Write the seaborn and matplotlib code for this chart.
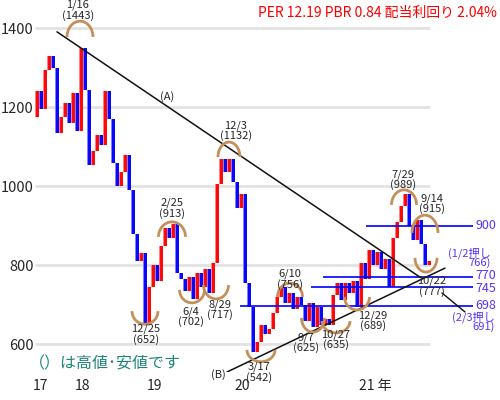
import numpy as np
import pandas as pd
import matplotlib
matplotlib.use("Agg")
import matplotlib.pyplot as plt
from matplotlib.patches import Arc
import seaborn as sns

# ---- data ----
first_open = 1175
closes = [1240, 1195, 1295, 1330, 1300, 1135, 1175, 1210, 1160, 1235,
          1140, 1350, 1245, 1055, 1090, 1130, 1105, 1240, 1170, 1060,
          1000, 1035, 1080, 990, 880, 810, 830, 655, 745, 800,
          760, 850, 895, 870, 905, 780, 765, 735, 770, 715,
          780, 745, 790, 730, 805, 1005, 1070, 1035, 1070, 1010,
          945, 980, 755, 695, 580, 605, 650, 625, 640, 680,
          720, 745, 705, 730, 690, 720, 700, 658, 705, 645,
          695, 650, 665, 650, 725, 755, 712, 755, 730, 760,
          695, 805, 765, 840, 800, 835, 790, 815, 745, 870,
          910, 950, 980, 900, 865, 915, 855, 800, 810]

price_ticks = [600, 800, 1000, 1200, 1400]
year_labels = ["17", "18", "19", "20", "21 年"]
year_pos = [0.75, 11.25, 29.5, 51.25, 84.5]

levels = [900, 770, 745, 698]
level_start = [82.25, 71.5, 68.5, 50.75]
level_label_nudge = [0, 3, -4, 0]

title = "PER 12.19 PBR 0.84 配当利回り 2.04%"
note = "（）は高値･安値です"

# date, price, label x, label y, arc centre x, arc end y, arc tip y, arc width
marks = [
    ("1/16", "(1443)", 10.25, 1446, 10.75, 1378, 1418, 6.5),
    ("12/3", "(1132)", 49.75, 1141, 48.0, 1074, 1112, 5.5),
    ("2/25", "(913)", 33.75, 944, 33.75, 872, 910, 6.75),
    ("12/25", "(652)", 27.25, 625, 27.0, 684, 651, 6.5),
    ("6/4", "(702)", 38.5, 670, 38.75, 738, 705, 6.25),
    ("8/29", "(717)", 45.75, 688, 44.75, 750, 715, 6.25),
    ("3/17", "(542)", 55.5, 529, 56.0, 586, 556, 7.0),
    ("6/10", "(756)", 63.25, 765, 63.25, 720, 755, 6.25),
    ("9/7", "(625)", 67.25, 604, 69.0, 667, 631, 5.75),
    ("10/27", "(635)", 74.75, 611, 74.75, 659, 629, 7.0),
    ("12/29", "(689)", 84.0, 660, 80.0, 720, 687, 6.25),
    ("7/29", "(989)", 91.5, 1016, 91.75, 953, 991, 6.25),
    ("9/14", "(915)", 98.75, 956, 97.0, 882, 927, 6.5),
    ("10/22", "(777)", 98.75, 747, None, None, None, None),
]
extra_arc = (97.25, 819, 783, 5.5)

# ---- style ----
sns.set_style("white")
plt.rcParams["font.family"] = ["Noto Sans CJK JP", "DejaVu Sans"]

df = pd.DataFrame({"close": closes})
df["open"] = [first_open] + closes[:-1]
df["x"] = np.arange(len(df))
df["bottom"] = df[["open", "close"]].min(axis=1)
df["height"] = (df["close"] - df["open"]).abs().clip(lower=3)
up = df["close"] >= df["open"]

fig = plt.figure(figsize=(5, 4), dpi=100)
ax = fig.add_axes([0.07, 0.07, 0.93, 0.93])
ax.set_xlim(-0.5, 115.75)
ax.set_ylim(530, 1471.6)

ax.hlines(price_ticks, -0.5, 98.3, color="#e2e2e2", lw=2, zorder=0)

light = np.where(up, "#ff8080", "#8080ff")
dark = np.where(up, "#ff0808", "#0808ff")
ax.bar(df["x"], df["height"], bottom=df["bottom"], width=1.0, color=light,
       linewidth=0, zorder=2)
ax.bar(df["x"] + 0.15, df["height"], bottom=df["bottom"], width=0.6, color=dark,
       linewidth=0, zorder=2)

# support / resistance levels
for lv, xs, dy in zip(levels, level_start, level_label_nudge):
    ax.hlines(lv, xs, 109, color="#0000ff", lw=1.2, zorder=3)
    ax.text(109.5, lv + dy, str(lv), color="#5a32ff", fontsize=9, va="center", ha="left")

# trend lines
ax.plot([5, 95.75], [1391, 770], color="#111111", lw=1.1, zorder=4)
ax.plot([47.5, 102], [530, 793], color="#111111", lw=1.1, zorder=4)
ax.plot([101.25, 107], [730, 682], color="#111111", lw=1.0, zorder=4)
ax.text(32.5, 1226, "(A)", fontsize=8, ha="center", va="center")
ax.text(45.25, 524, "(B)", fontsize=8, ha="center", va="center")

arc_color = "#c4905a"
for date, price, lx, ly, acx, aend, atip, aw in marks:
    ax.text(lx, ly, date + "\n" + price, fontsize=8, ha="center", va="center",
            linespacing=0.95, zorder=5)
    if acx is None:
        continue
    h = abs(atip - aend) * 2
    t1, t2 = (0, 180) if atip > aend else (180, 360)
    ax.add_patch(Arc((acx, aend), aw, h, theta1=t1, theta2=t2,
                     color=arc_color, lw=2, zorder=4))
ax.add_patch(Arc((extra_arc[0], extra_arc[1]), extra_arc[3],
                 2 * (extra_arc[1] - extra_arc[2]), theta1=180, theta2=360,
                 color=arc_color, lw=2, zorder=4))

ax.text(113.5, 818, "(1/2押し\n766)", color="#5a32ff", fontsize=8,
        ha="right", va="center", multialignment="right", linespacing=0.78)
ax.text(114.5, 657, "(2/3押し\n691)", color="#5a32ff", fontsize=8,
        ha="right", va="center", multialignment="right", linespacing=0.78)

ax.set_yticks(price_ticks)
ax.set_yticklabels([str(t) for t in price_ticks], fontsize=10.5)
ax.set_xticks(year_pos)
ax.set_xticklabels(year_labels, fontsize=10)
ax.tick_params(axis="both", length=0)
ax.tick_params(axis="y", pad=1)
ax.tick_params(axis="x", pad=5)
for s in ax.spines.values():
    s.set_visible(False)

ax.text(-2, 551, note, color="#21867a", fontsize=11.5, ha="left", va="center")
fig.text(0.994, 0.968, title, color="#ff0000", fontsize=10, ha="right", va="center")

fig.savefig("out.png", dpi=100)
